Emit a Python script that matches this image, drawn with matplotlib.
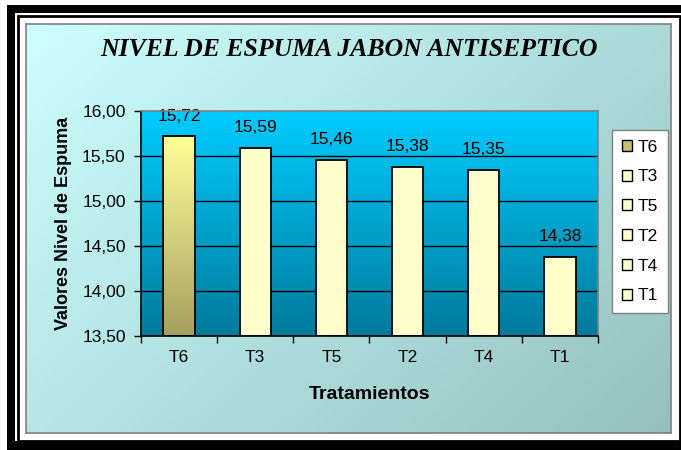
import numpy as np
import matplotlib
matplotlib.use('Agg')
from matplotlib import pyplot as plt
from matplotlib.patches import Rectangle
from matplotlib.ticker import FixedLocator, NullFormatter

treatments = ['T6', 'T3', 'T5', 'T2', 'T4', 'T1']
foam_level = [15.72, 15.59, 15.46, 15.38, 15.35, 14.38]
y_ticks = [13.5, 14.0, 14.5, 15.0, 15.5, 16.0]

W, H = 681, 450
plt.rcParams['font.family'] = ['Liberation Sans', 'DejaVu Sans']

fig = plt.figure(figsize=(W / 100, H / 100), dpi=100)
fig.patch.set_facecolor('white')


def px(x0, y0, x1, y1):
    # pixel box (top-left origin) -> figure fraction rect
    return [x0 / W, 1 - y1 / H, (x1 - x0) / W, (y1 - y0) / H]


# frame lines
frame = fig.add_axes([0, 0, 1, 1])
frame.set_xlim(0, W)
frame.set_ylim(H, 0)
frame.axis('off')
frame.add_patch(Rectangle((7, 5), W, 8, color='black', lw=0))
frame.add_patch(Rectangle((7, 5), 8, H, color='black', lw=0))
frame.add_patch(Rectangle((7, 441), W, 9, color='black', lw=0))
frame.add_patch(Rectangle((18, 16), 661.5, 425, fill=False, ec='black', lw=2))

# chart area with diagonal gradient
bg = fig.add_axes(px(26, 24, 671, 433))
gx, gy = np.meshgrid(np.linspace(0, 1, 200), np.linspace(0, 1, 200))
t = (gx * 0.6 + gy * 0.4)
c0 = np.array([204, 255, 255]) / 255
c1 = np.array([150, 192, 192]) / 255
img = c0 + (c1 - c0) * t[..., None]
bg.imshow(img, aspect='auto', extent=[0, 1, 1, 0])
bg.set_xlim(0, 1)
bg.set_ylim(1, 0)
bg.set_xticks([])
bg.set_yticks([])
for s in bg.spines.values():
    s.set_edgecolor('#808080')
    s.set_linewidth(1.2)

ax = fig.add_axes(px(141, 111, 598, 336))
x = np.arange(len(treatments))

# plot area vertical gradient
pg = np.linspace(0, 1, 256)[:, None]
top = np.array([0, 204, 255]) / 255
bot = np.array([0, 122, 155]) / 255
pimg = top + (bot - top) * pg[..., None]
pimg = np.repeat(pimg, 2, axis=1)
ax.imshow(pimg, aspect='auto', extent=[-0.5, len(treatments) - 0.5, 13.5, 16.0],
          origin='upper', zorder=0)

for yv in y_ticks[1:-1]:
    ax.axhline(yv, color='black', lw=1, zorder=1)

bars = ax.bar(x, [v - 13.5 for v in foam_level], bottom=13.5, width=0.41,
              color='#FFFFCC', edgecolor='black', lw=1.3, zorder=3)

# gradient for the first bar
b0 = bars[0]
b0.set_facecolor('none')
yb = np.linspace(0, 1, 256)[:, None]
btop = np.array([255, 255, 153]) / 255
bbot = np.array([165, 160, 95]) / 255
bimg = btop + (bbot - btop) * yb[..., None]
bimg = np.repeat(bimg, 2, axis=1)
ax.imshow(bimg, aspect='auto', origin='upper', zorder=2,
          extent=[b0.get_x(), b0.get_x() + b0.get_width(), 13.5, foam_level[0]])
ax.set_xlim(-0.5, len(treatments) - 0.5)
ax.set_ylim(13.5, 16.0)

for xi, v in zip(x, foam_level):
    ax.annotate(f'{v:.2f}'.replace('.', ','), (xi, v), xytext=(0, 9),
                textcoords='offset points', ha='center', va='bottom',
                fontsize=12.5)

ax.set_yticks(y_ticks)
ax.set_yticklabels([f'{v:.2f}'.replace('.', ',') for v in y_ticks], fontsize=12.5)
ax.set_xticks(x)
ax.set_xticklabels(treatments, fontsize=12.5)
ax.tick_params(axis='x', length=0, pad=10)
ax.xaxis.set_minor_locator(FixedLocator(np.arange(-0.5, len(treatments), 1.0)))
ax.xaxis.set_minor_formatter(NullFormatter())
ax.tick_params(axis='x', which='minor', length=5, width=1, direction='out')
ax.tick_params(axis='y', length=5, width=1, direction='out', pad=6)

ax.spines['left'].set_color('black')
ax.spines['bottom'].set_color('black')
ax.spines['top'].set_color('#808080')
ax.spines['right'].set_color('#808080')
for s in ax.spines.values():
    s.set_linewidth(1.2)
    s.set_zorder(4)

ax.set_xlabel('Tratamientos', fontsize=14, fontweight='bold', labelpad=15)
ax.set_ylabel('Valores Nivel de Espuma', fontsize=13, fontweight='bold', labelpad=7)

fig.text(349 / W, 1 - 50 / H, 'NIVEL DE ESPUMA JABON ANTISEPTICO',
         family='Liberation Serif', style='italic', fontweight='bold',
         fontsize=18.5, ha='center', va='center')

# legend
handles = [Rectangle((0, 0), 1, 1, facecolor='#C8C070' if i == 0 else '#FFFFCC',
                     edgecolor='black', lw=1) for i in range(len(treatments))]
leg = fig.legend(handles, treatments, loc='upper left',
                 bbox_to_anchor=(612 / W, 1 - 130 / H), fontsize=12.5,
                 frameon=True, fancybox=False, framealpha=1,
                 handlelength=0.6, handleheight=0.6,
                 handletextpad=0.35, labelspacing=0.85, borderpad=0.55,
                 borderaxespad=0)
leg.get_frame().set_edgecolor('#808080')
leg.get_frame().set_linewidth(1)
leg.get_frame().set_facecolor('white')

fig.savefig('out.png', dpi=100)
